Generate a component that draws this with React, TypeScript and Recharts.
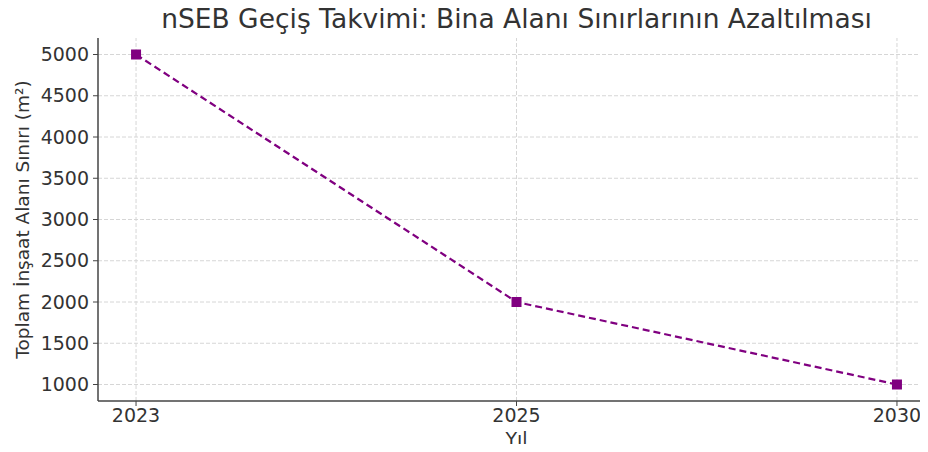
import { LineChart, Line, XAxis, YAxis, ReferenceLine } from 'recharts';

// ─── data ─────────────────────────────────────────────────────────────────────

const years = ['2023', '2025', '2030'];
const areaLimits = [5000, 2000, 1000];
const yTicks = [1000, 1500, 2000, 2500, 3000, 3500, 4000, 4500, 5000];
const xTicks = [0, 1, 2];

const data = years.map((year, i) => ({ idx: i, year, limit: areaLimits[i] }));

const TEXT = '#333333';
const FONT = '"DejaVu Sans", sans-serif';
const GRID = '#d6d6d6';

function SquareDot({ cx, cy }: any) {
  if (cx == null || cy == null) return null;
  return <rect x={cx - 5} y={cy - 5} width={10} height={10} fill="#800080" />;
}

export default function App() {
  return (
    <div style={{ margin: -8, width: 928, height: 452, overflow: 'hidden', background: '#fff', position: 'relative' }}>
      <div
        style={{
          position: 'absolute',
          left: 98,
          width: 837,
          top: 3,
          textAlign: 'center',
          fontFamily: FONT,
          fontSize: 26.5,
          color: TEXT,
          whiteSpace: 'nowrap',
        }}
      >
        nSEB Geçiş Takvimi: Bina Alanı Sınırlarının Azaltılması
      </div>
      <LineChart
        width={936}
        height={452}
        data={data}
        margin={{ top: 38, right: 1, left: 0, bottom: 0 }}
      >
        {/* grid only at the ticks, like the matplotlib original */}
        {yTicks.map(t => (
          <ReferenceLine key={`h${t}`} y={t} stroke={GRID} strokeDasharray="4 2" />
        ))}
        {xTicks.map(t => (
          <ReferenceLine key={`v${t}`} x={t} stroke={GRID} strokeDasharray="4 2" />
        ))}
        <XAxis
          type="number"
          dataKey="idx"
          domain={[-0.1, 2.1]}
          ticks={xTicks}
          tickFormatter={(v: number) => years[v]}
          height={51}
          tick={{ fontSize: 19, fontFamily: FONT, fill: TEXT }}
          tickSize={5}
          tickMargin={3}
          axisLine={{ stroke: '#444', strokeWidth: 1.5 }}
          tickLine={{ stroke: '#444' }}
          label={{ value: 'Yıl', position: 'insideBottom', offset: 6, fontSize: 19, fontFamily: FONT, fill: TEXT }}
        />
        <YAxis
          type="number"
          domain={[800, 5200]}
          ticks={yTicks}
          allowDataOverflow
          width={98}
          tick={{ fontSize: 19, fontFamily: FONT, fill: TEXT }}
          tickSize={5}
          tickMargin={4}
          axisLine={{ stroke: '#444', strokeWidth: 1.5 }}
          tickLine={{ stroke: '#444' }}
          label={{
            value: 'Toplam İnşaat Alanı Sınırı (m²)',
            angle: -90,
            position: 'insideLeft',
            offset: 22,
            style: { textAnchor: 'middle', fontSize: 18.5, fontFamily: FONT, fill: TEXT },
          }}
        />
        <Line
          type="linear"
          dataKey="limit"
          stroke="#800080"
          strokeWidth={2.2}
          strokeDasharray="7 4"
          dot={<SquareDot />}
          activeDot={false}
          isAnimationActive={false}
        />
      </LineChart>
    </div>
  );
}
